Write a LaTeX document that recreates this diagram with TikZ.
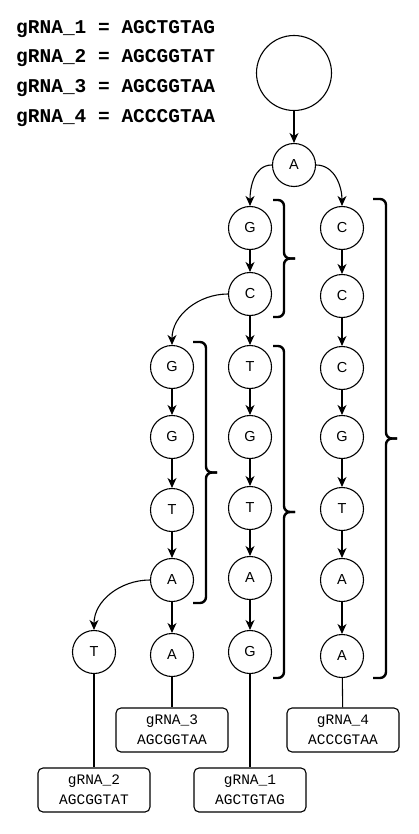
\documentclass[tikz,border=0pt]{standalone}
\usepackage{fontspec}
\setmainfont{Liberation Sans}
\newfontfamily\cour{Liberation Mono}
\usetikzlibrary{arrows.meta}
\begin{document}
\begin{tikzpicture}[x=1pt,y=-1pt,
  nd/.style={circle,draw,line width=1.1pt,minimum size=43pt,inner sep=0pt,font=\fontsize{14.5}{14.5}\selectfont},
  rootnd/.style={circle,draw,line width=1.1pt,minimum size=75pt,inner sep=0pt},
  box/.style={draw,rounded corners=5pt,line width=1.1pt,minimum width=112pt,minimum height=44pt,inner sep=0pt,align=center,font=\cour\fontsize{14.5}{20}\selectfont},
  arr/.style={line width=1.1pt,-{Stealth[length=10pt,width=9pt,inset=3pt]}},
  ln/.style={line width=1.1pt},
  brace/.style={line width=2.4pt,rounded corners=6pt},
  eq/.style={anchor=west,font=\cour\bfseries\fontsize{19.5}{20}\selectfont,inner sep=0pt}]
\useasboundingbox (0,0) rectangle (418,834);
% equations
\node[eq] (e1) at (16,29) {gRNA\_1 = AGCTGTAG};
\node[eq] (e2) at (16,58) {gRNA\_2 = AGCGGTAT};
\node[eq] (e3) at (16,88) {gRNA\_3 = AGCGGTAA};
\node[eq] (e4) at (16,118) {gRNA\_4 = ACCCGTAA};
% nodes
\node[rootnd] (r) at (294,73) {};
\node[nd] (a) at (294,165) {A};
\node[nd] (g1) at (250,228) {G};
\node[nd] (c1) at (342,228) {C};
\node[nd] (c2) at (250,294) {C};
\node[nd] (cc2) at (342,296) {C};
\node[nd] (g2) at (172,367) {G};
\node[nd] (t1) at (250,367) {T};
\node[nd] (cc3) at (342,368) {C};
\node[nd] (g3) at (172,437) {G};
\node[nd] (g4) at (250,437) {G};
\node[nd] (gg4) at (342,437) {G};
\node[nd] (t2) at (172,510) {T};
\node[nd] (t3) at (250,508) {T};
\node[nd] (t4) at (342,509) {T};
\node[nd] (a1) at (172,580) {A};
\node[nd] (a2) at (250,578) {A};
\node[nd] (a3) at (342,580) {A};
\node[nd] (t5) at (94,652) {T};
\node[nd] (a4) at (172,655) {A};
\node[nd] (g5) at (250,652) {G};
\node[nd] (a5) at (342,656) {A};
% boxes
\node[box] (b3) at (172,730) {gRNA\_3\\AGCGGTAA};
\node[box] (b4) at (343,730) {gRNA\_4\\ACCCGTAA};
\node[box] (b2) at (94,790) {gRNA\_2\\AGCGGTAT};
\node[box] (b1) at (250,790) {gRNA\_1\\AGCTGTAG};
% arrows
\draw[arr] (r) -- (a);
\draw[arr] (a.west) to[out=180,in=90] (g1.north);
\draw[arr] (a.east) to[out=0,in=90] (c1.north);
\draw[arr] (g1) -- (c2);
\draw[arr] (c2.west) to[out=180,in=90] (g2.north);
\draw[arr] (c2) -- (t1);
\draw[arr] (c1) -- (cc2);
\draw[arr] (cc2) -- (cc3);
\draw[arr] (g2) -- (g3);
\draw[arr] (t1) -- (g4);
\draw[arr] (cc3) -- (gg4);
\draw[arr] (g3) -- (t2);
\draw[arr] (g4) -- (t3);
\draw[arr] (gg4) -- (t4);
\draw[arr] (t2) -- (a1);
\draw[arr] (t3) -- (a2);
\draw[arr] (t4) -- (a3);
\draw[arr] (a1.west) to[out=180,in=90] (t5.north);
\draw[arr] (a1) -- (a4);
\draw[arr] (a2) -- (g5);
\draw[arr] (a3) -- (a5);
% lines to boxes
\draw[ln] (t5) -- (b2);
\draw[ln] (a4) -- (b3);
\draw[ln] (g5) -- (b1);
\draw[ln] (a5) -- (b4);
% braces
\draw[brace] (273,200) -- (284,200) -- (284,258.5) -- (295,258.5);
\draw[brace] (295,258.5) -- (284,258.5) -- (284,317) -- (273,317);
\draw[brace] (193,342) -- (206,342) -- (206,472.5) -- (217,472.5);
\draw[brace] (217,472.5) -- (206,472.5) -- (206,603) -- (193,603);
\draw[brace] (273,346) -- (284,346) -- (284,512) -- (295,512);
\draw[brace] (295,512) -- (284,512) -- (284,678) -- (273,678);
\draw[brace] (373,199) -- (386,199) -- (386,438.5) -- (397,438.5);
\draw[brace] (397,438.5) -- (386,438.5) -- (386,678) -- (373,678);
\end{tikzpicture}
\end{document}
